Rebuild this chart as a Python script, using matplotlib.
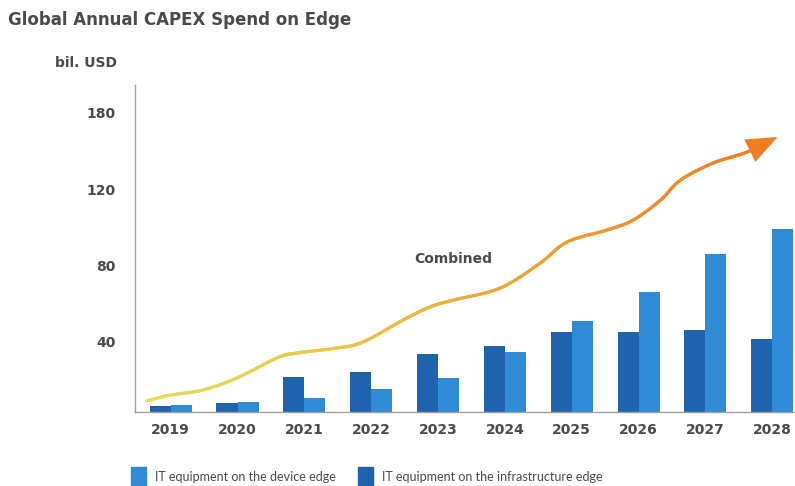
import numpy as np
import matplotlib
matplotlib.use("Agg")
import matplotlib.pyplot as plt
from matplotlib.collections import LineCollection
from matplotlib.colors import LinearSegmentedColormap
from matplotlib.patches import Polygon
from matplotlib.ticker import FixedLocator, FixedFormatter

# --- data -------------------------------------------------------------
years = ["2019", "2020", "2021", "2022", "2023", "2024", "2025", "2026", "2027", "2028"]
infrastructure_edge = [6.4, 7.8, 21.5, 24.4, 33.5, 37.9, 45.0, 45.0, 46.1, 41.7]
device_edge = [7.0, 8.7, 10.5, 15.5, 21.3, 34.9, 51.1, 66.1, 86.0, 99.3]

# combined trend, sampled along the year axis (positions in year index units)
combined_pos = [-0.36, 0.0, 0.48, 0.99, 1.59, 1.89, 2.49, 2.88, 3.48, 3.88,
                4.23, 4.93, 5.53, 5.93, 6.53, 6.92, 7.33, 7.63, 8.12, 8.63, 9.08]
combined_val = [9.1, 12.2, 14.8, 21.1, 31.6, 34.2, 36.8, 40.0, 51.5, 58.3,
                61.9, 68.2, 81.3, 92.3, 98.6, 103.8, 114.3, 124.8, 133.7, 139.5, 147.3]

ytick_pos = [40, 80, 120, 160]
ytick_labels = ["40", "80", "120", "180"]

# --- style ------------------------------------------------------------
dark_blue = "#1f62ad"
light_blue = "#2f8bd6"
text_grey = "#4a4a4a"
plt.rcParams["font.family"] = ["DejaVu Sans"]

fig = plt.figure(figsize=(7.95, 4.86), dpi=100)
ax = fig.add_axes([135 / 795, 1 - 412 / 486, 660 / 795, (412 - 85) / 486])
ax.set_xlim(-0.534, 9.34)
ax.set_ylim(3.3, 174.5)

x = np.arange(len(years))
w = 0.315
ax.bar(x - w / 2, infrastructure_edge, width=w, color=dark_blue, zorder=2)
ax.bar(x + w / 2, device_edge, width=w, color=light_blue, zorder=2)

# smooth combined curve (Catmull-Rom through the sampled points)
P = np.column_stack([combined_pos, combined_val])
P_ext = np.vstack([2 * P[0] - P[1], P, 2 * P[-1] - P[-2]])
pts = []
for i in range(1, len(P_ext) - 2):
    p0, p1, p2, p3 = P_ext[i - 1], P_ext[i], P_ext[i + 1], P_ext[i + 2]
    t = np.linspace(0, 1, 20, endpoint=False)[:, None]
    seg = 0.5 * ((2 * p1) + (-p0 + p2) * t + (2 * p0 - 5 * p1 + 4 * p2 - p3) * t ** 2
                 + (-p0 + 3 * p1 - 3 * p2 + p3) * t ** 3)
    pts.append(seg)
pts.append(P[-1][None, :])
curve = np.vstack(pts)

# line runs a little into the arrow head so they join cleanly
head_start = 8.64
line_pts = curve[curve[:, 0] <= head_start + 0.08]
segs = np.stack([line_pts[:-1], line_pts[1:]], axis=1)
cmap = LinearSegmentedColormap.from_list(
    "combined", ["#e6df5c", "#ecc446", "#ee9c31", "#f07f22"])
lc = LineCollection(segs, cmap=cmap, linewidth=2.3, zorder=3, capstyle="round")
lc.set_array(np.linspace(0, 1, len(segs)))
ax.add_collection(lc)

# arrow head, built in pixel space and mapped back to data
to_px = ax.transData
tip = to_px.transform(P[-1])
base = to_px.transform(curve[curve[:, 0] <= head_start][-1])
d = tip - base
u = d / np.hypot(*d)
n = np.array([-u[1], u[0]])
head_len, head_half = 31.0, 12.5
b = tip - u * head_len
tri_px = np.array([tip, b + n * head_half, b - n * head_half])
tri = to_px.inverted().transform(tri_px)
ax.add_patch(Polygon(tri, closed=True, color="#f07d22", lw=0, zorder=4))

ax.text(4.23, 83.4, "Combined", fontsize=10, fontweight="bold", color=text_grey,
        ha="center", va="center")

# axes
for s in ("top", "right"):
    ax.spines[s].set_visible(False)
for s in ("left", "bottom"):
    ax.spines[s].set_color("#a0a0a0")
    ax.spines[s].set_linewidth(1.0)

ax.set_xticks(x)
ax.set_xticklabels(years)
ax.yaxis.set_major_locator(FixedLocator(ytick_pos))
ax.yaxis.set_major_formatter(FixedFormatter(ytick_labels))
ax.tick_params(axis="x", length=0, pad=8, labelsize=10, labelcolor=text_grey)
ax.tick_params(axis="y", length=0, pad=14, labelsize=10, labelcolor=text_grey)
for lab in ax.get_xticklabels() + ax.get_yticklabels():
    lab.set_fontweight("bold")

# titles
fig.text(8 / 795, 1 - 20 / 486, "Global Annual CAPEX Spend on Edge", fontsize=12,
         fontweight="bold", color=text_grey, ha="left", va="center")
fig.text(55 / 795, 1 - 63 / 486, "bil. USD", fontsize=10, fontweight="bold",
         color=text_grey, ha="left", va="center")

# legend
fig.patches.append(plt.Rectangle((131 / 795, 0), 15 / 795, 19 / 486,
                                 transform=fig.transFigure, color=light_blue))
fig.text(155 / 795, 1 - 477 / 486, "IT equipment on the device edge", fontsize=9,
         family=["Lato", "DejaVu Sans"], color=text_grey, ha="left", va="center")
fig.patches.append(plt.Rectangle((358 / 795, 0), 15 / 795, 19 / 486,
                                 transform=fig.transFigure, color=dark_blue))
fig.text(382 / 795, 1 - 477 / 486, "IT equipment on the infrastructure edge", fontsize=9,
         family=["Lato", "DejaVu Sans"], color=text_grey, ha="left", va="center")

fig.savefig("out.png", dpi=100)
